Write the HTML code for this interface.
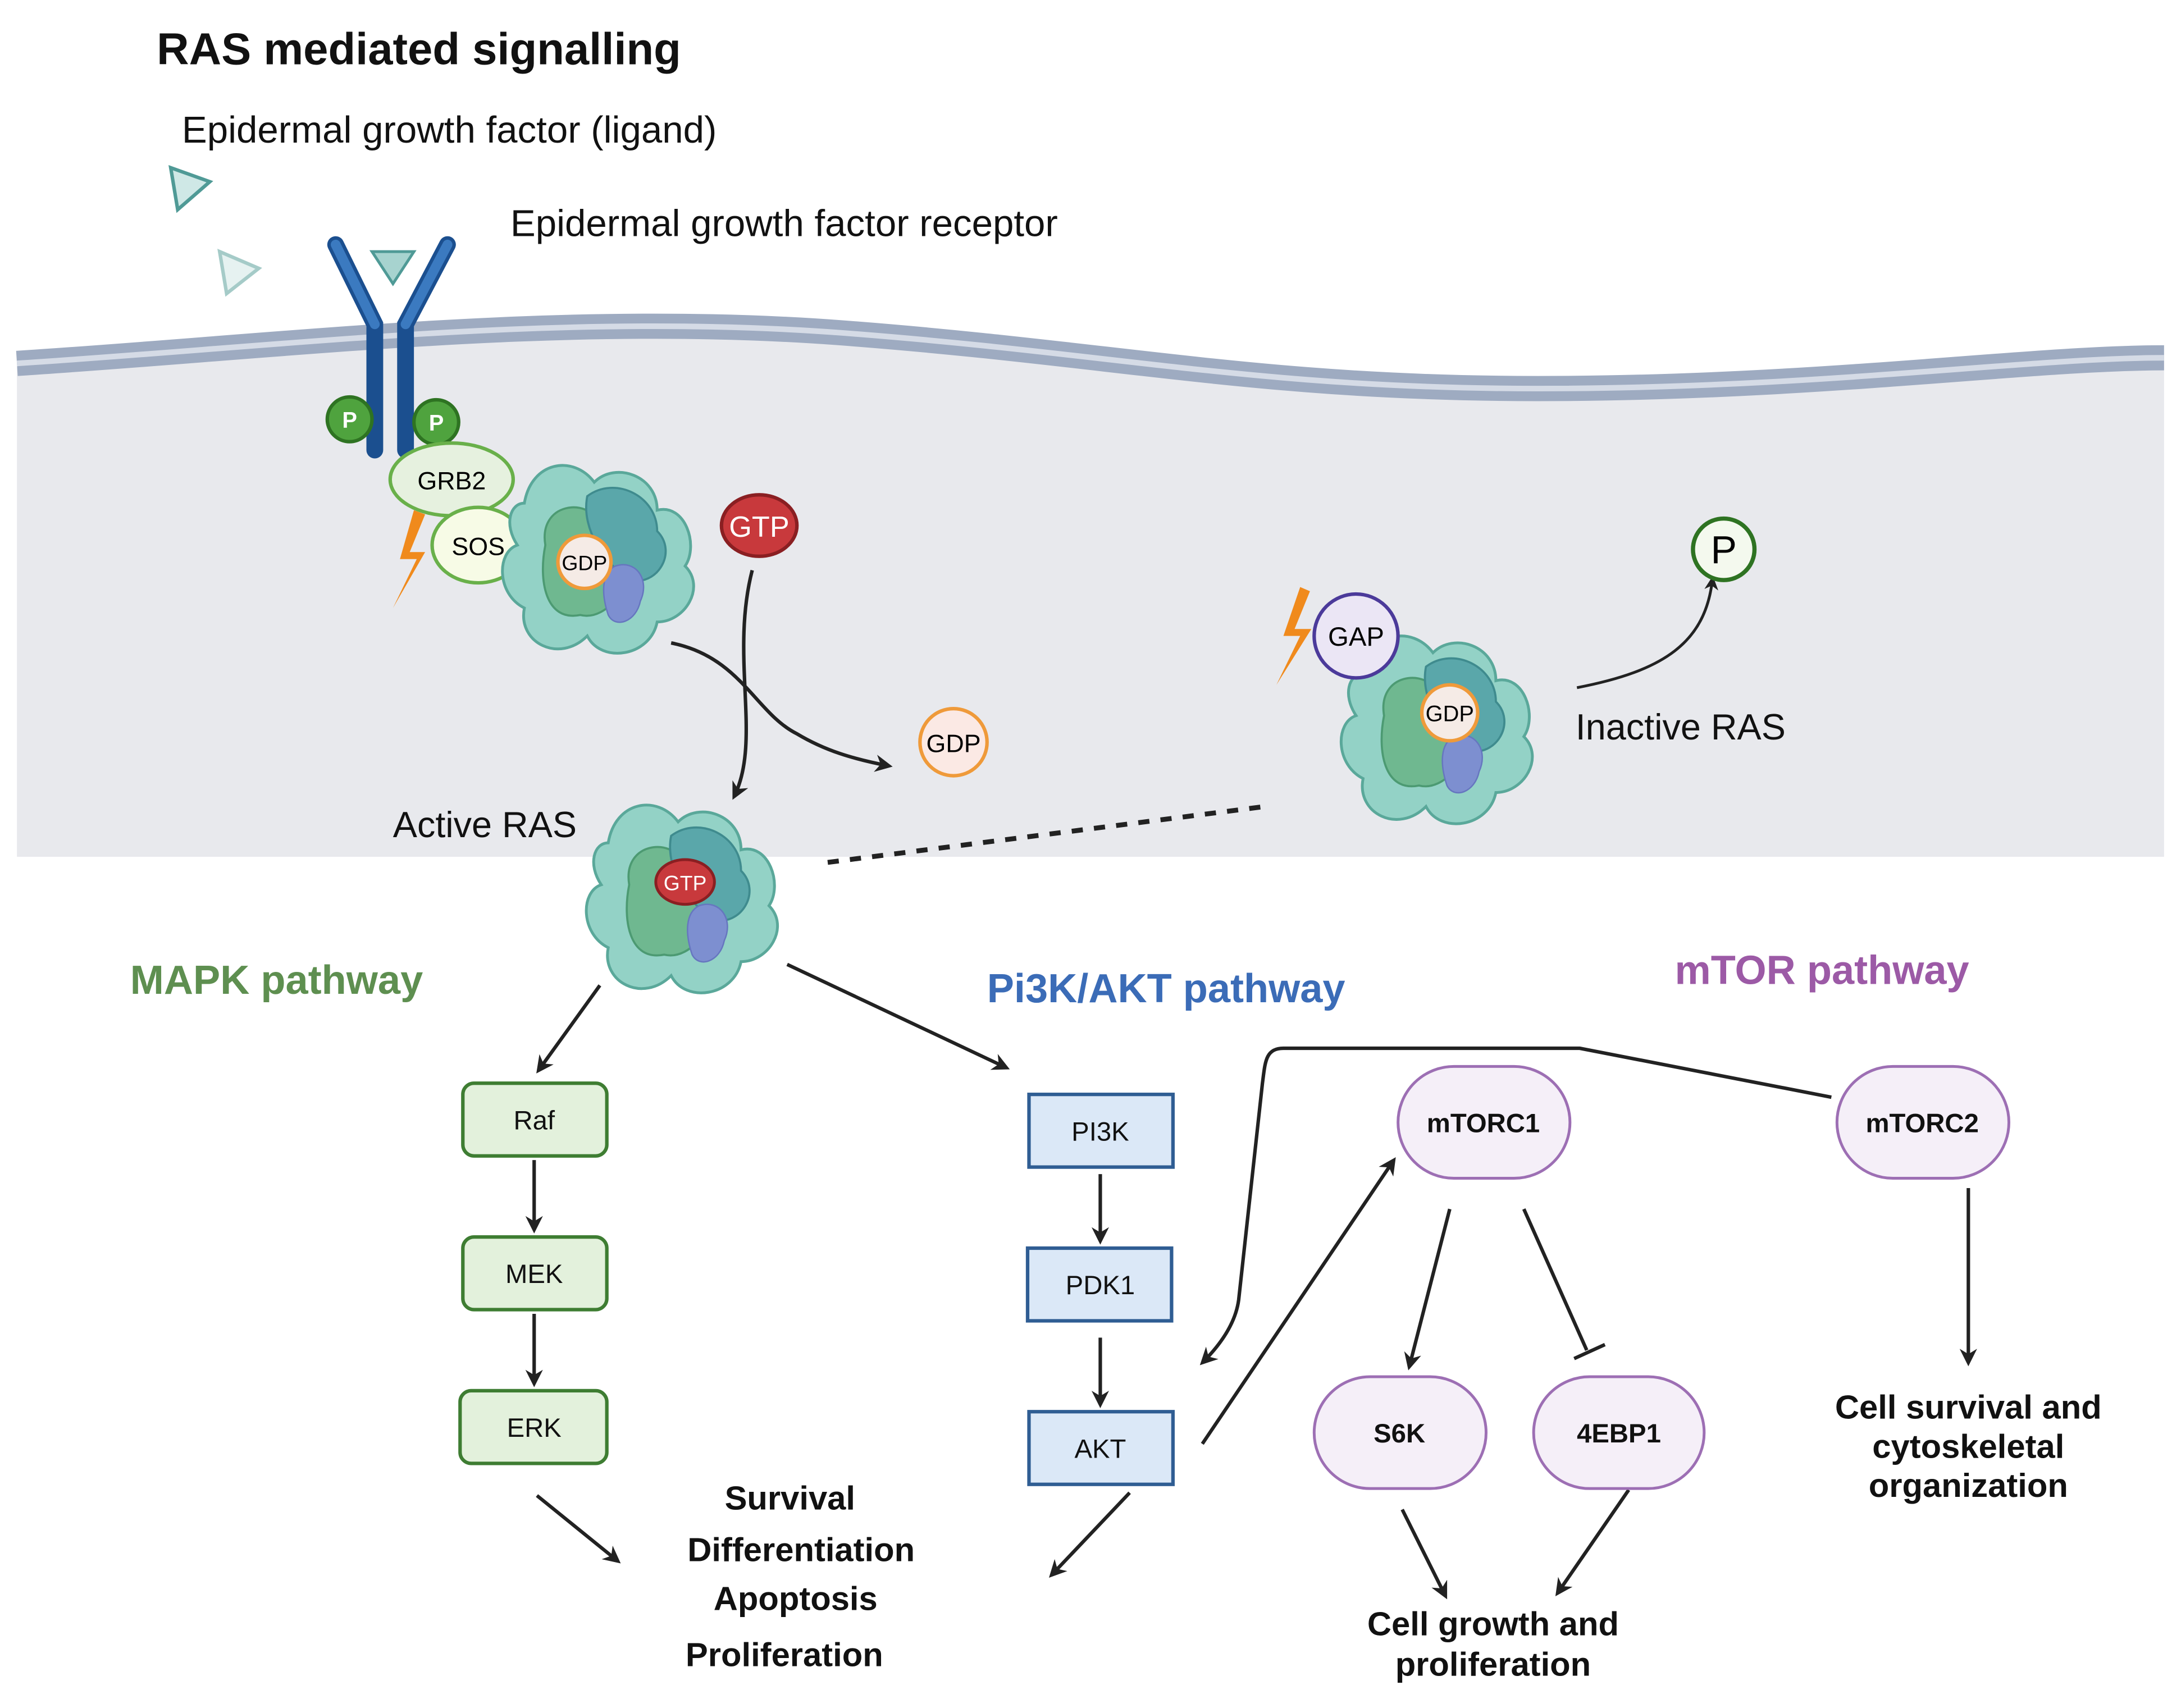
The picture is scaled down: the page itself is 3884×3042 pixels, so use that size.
<!DOCTYPE html>
<html><head><meta charset="utf-8"><style>html,body{margin:0;padding:0;background:#fff}svg{display:block}text{font-family:"Liberation Sans",sans-serif}</style></head>
<body>
<svg width="3884" height="3042" viewBox="0 0 1560 1222" xmlns="http://www.w3.org/2000/svg">
<defs>
<marker id="ah" viewBox="0 0 10 10" refX="8" refY="5" markerWidth="5" markerHeight="5" orient="auto"><path d="M0,0 L10,5 L0,10 L3,5 z" fill="#222"/></marker>
<g id="ras">
<path d="M-55,-40 C-50,-70 -20,-75 -5,-55 C10,-70 40,-60 40,-35 C60,-40 70,-10 60,5 C75,20 60,45 40,45 C35,70 0,75 -10,55 C-30,75 -60,60 -55,35 C-75,25 -75,-5 -60,-10 C-70,-25 -65,-40 -55,-40 z" fill="#93d2c6" stroke="#5aa89a" stroke-width="2"/>
<path d="M-40,-10 C-45,-40 -10,-45 0,-25 C10,-35 25,-20 15,0 C25,15 5,45 -15,40 C-40,45 -45,15 -40,-10 z" fill="#6fb890" stroke="#4c9a72" stroke-width="1.5"/>
<path d="M-10,-45 C10,-60 40,-45 40,-20 C55,-5 40,20 20,15 C5,5 -15,-20 -10,-45 z" fill="#5aa7aa" stroke="#3f8b8e" stroke-width="1.5"/>
<path d="M10,5 C25,0 35,15 28,30 C25,45 10,50 5,40 C0,25 0,10 10,5 z" fill="#7d8fd0" stroke="#6676bf" stroke-width="1"/>
</g>
</defs>

<text x="112" y="46" font-size="32" font-weight="bold" fill="#111">RAS mediated signalling</text>
<text x="130" y="102" font-size="27" fill="#111">Epidermal growth factor (ligand)</text>
<text x="365" y="169" font-size="27" fill="#111">Epidermal growth factor receptor</text>

<path d="M122,120 L150,130 L127,150 z" fill="#cfe8e6" stroke="#4f9a96" stroke-width="2.5"/>
<path d="M157,180 L185,192 L162,210 z" fill="#e6f2f1" stroke="#a5cbc8" stroke-width="2.5"/>

<path d="M12,262 C200,250 400,225 600,240 C800,255 900,280 1100,280 C1300,280 1450,258 1548,258 L1548,613 L12,613 z" fill="#e8e9ed"/>
<path d="M12,260 C200,248 400,223 600,238 C800,253 900,278 1100,278 C1300,278 1450,256 1548,256" fill="none" stroke="#9eabc1" stroke-width="18"/>
<path d="M12,260 C200,248 400,223 600,238 C800,253 900,278 1100,278 C1300,278 1450,256 1548,256" fill="none" stroke="#d5dbe6" stroke-width="4"/>

<path d="M240,175 L268,232 L268,322" fill="none" stroke="#1b4f8f" stroke-width="12" stroke-linecap="round"/>
<path d="M320,175 L290,232 L290,322" fill="none" stroke="#1b4f8f" stroke-width="12" stroke-linecap="round"/>
<path d="M240,175 L268,232" fill="none" stroke="#3b7ac0" stroke-width="7" stroke-linecap="round"/>
<path d="M320,175 L290,232" fill="none" stroke="#3b7ac0" stroke-width="7" stroke-linecap="round"/>
<path d="M266,180 L296,180 L281,203 z" fill="#a7d3cf" stroke="#4f9a96" stroke-width="2"/>
<circle cx="250" cy="300" r="16" fill="#4fa33e" stroke="#2e7322" stroke-width="2.5"/>
<text x="250" y="306" font-size="16" font-weight="bold" fill="#fff" text-anchor="middle">P</text>
<circle cx="312" cy="302" r="16" fill="#4fa33e" stroke="#2e7322" stroke-width="2.5"/>
<text x="312" y="308" font-size="16" font-weight="bold" fill="#fff" text-anchor="middle">P</text>

<ellipse cx="323" cy="343" rx="44" ry="26" fill="#e6f1df" stroke="#69b04a" stroke-width="2.5"/>
<text x="323" y="350" font-size="18" text-anchor="middle">GRB2</text>
<ellipse cx="342" cy="390" rx="33" ry="27" fill="#f7fbe6" stroke="#69b04a" stroke-width="2.5"/>
<text x="342" y="397" font-size="18" text-anchor="middle">SOS</text>
<path d="M296,365 L286,400 L298,400 L281,435 L304,395 L293,395 L304,368 z" fill="#f08a1c"/>

<use href="#ras" x="430" y="400"/>
<circle cx="418" cy="402" r="19" fill="#f5ebe6" stroke="#ef9a3a" stroke-width="2.5"/>
<text x="418" y="408" font-size="15" text-anchor="middle">GDP</text>

<ellipse cx="543" cy="376" rx="27" ry="22" fill="#c8393c" stroke="#8a1f22" stroke-width="2.5"/>
<text x="543" y="384" font-size="21" fill="#fff" text-anchor="middle">GTP</text>

<path d="M538,408 C522,470 545,530 525,570" fill="none" stroke="#222" stroke-width="2.5" marker-end="url(#ah)"/>
<path d="M480,460 C530,470 540,510 570,525 C590,537 610,543 636,548" fill="none" stroke="#222" stroke-width="2.5" marker-end="url(#ah)"/>
<circle cx="682" cy="531" r="24" fill="#fbe9e4" stroke="#ef9a3a" stroke-width="2.5"/>
<text x="682" y="538" font-size="18" text-anchor="middle">GDP</text>

<text x="281" y="599" font-size="26" fill="#111">Active RAS</text>
<use href="#ras" x="490" y="643"/>
<ellipse cx="490" cy="631" rx="21" ry="16" fill="#c8393c" stroke="#8a1f22" stroke-width="2"/>
<text x="490" y="637" font-size="15" fill="#fff" text-anchor="middle">GTP</text>
<line x1="592" y1="617" x2="905" y2="577" stroke="#222" stroke-width="3.5" stroke-dasharray="8,8"/>

<use href="#ras" x="1030" y="522"/>
<circle cx="970" cy="455" r="30" fill="#ebe6f5" stroke="#4b3a9a" stroke-width="2.5"/>
<text x="970" y="462" font-size="19" text-anchor="middle">GAP</text>
<path d="M930,420 L918,455 L930,455 L913,490 L938,450 L926,450 L937,423 z" fill="#f08a1c"/>
<circle cx="1037" cy="510" r="20" fill="#f5ebe6" stroke="#ef9a3a" stroke-width="2.5"/>
<text x="1037" y="516" font-size="16" text-anchor="middle">GDP</text>
<text x="1127" y="529" font-size="26" fill="#111">Inactive RAS</text>
<path d="M1128,492 C1190,480 1220,460 1225,414" fill="none" stroke="#222" stroke-width="2" marker-end="url(#ah)"/>
<circle cx="1233" cy="393" r="22" fill="#f4f9ee" stroke="#2e7322" stroke-width="3"/>
<text x="1233" y="403" font-size="28" text-anchor="middle">P</text>

<text x="93" y="711" font-size="29" font-weight="bold" fill="#5e8f50">MAPK pathway</text>
<text x="706" y="717" font-size="29" font-weight="bold" fill="#3b6cb7">Pi3K/AKT pathway</text>
<text x="1198" y="704" font-size="29" font-weight="bold" fill="#9c5aa6">mTOR pathway</text>

<g stroke="#222" stroke-width="2.5" fill="none" marker-end="url(#ah)">
<line x1="429" y1="705" x2="385" y2="766"/>
<line x1="563" y1="690" x2="720" y2="764"/>
<line x1="382" y1="830" x2="382" y2="880"/>
<line x1="382" y1="940" x2="382" y2="990"/>
<line x1="384" y1="1070" x2="442" y2="1117"/>
<line x1="787" y1="840" x2="787" y2="888"/>
<line x1="787" y1="957" x2="787" y2="1005"/>
<line x1="808" y1="1068" x2="752" y2="1127"/>
<line x1="860" y1="1033" x2="997" y2="830"/>
<line x1="1037" y1="865" x2="1008" y2="978"/>
<line x1="1408" y1="850" x2="1408" y2="975"/>
<line x1="1003" y1="1080" x2="1034" y2="1142"/>
<line x1="1165" y1="1066" x2="1114" y2="1140"/>
<path d="M1310,785 L1130,750 L918,750 C905,750 905,760 903,775 L886,930 C884,945 875,960 860,975"/>
</g>
<line x1="1090" y1="865" x2="1135" y2="966" stroke="#222" stroke-width="2.5"/>
<line x1="1126" y1="972" x2="1148" y2="962" stroke="#222" stroke-width="2.5"/>

<g font-size="19" text-anchor="middle" fill="#111">
<rect x="331" y="775" width="103" height="52" rx="8" fill="#e3f1dc" stroke="#3e7d32" stroke-width="2.5"/><text x="382" y="808">Raf</text>
<rect x="331" y="885" width="103" height="52" rx="8" fill="#e3f1dc" stroke="#3e7d32" stroke-width="2.5"/><text x="382" y="918">MEK</text>
<rect x="329" y="995" width="105" height="52" rx="8" fill="#e3f1dc" stroke="#3e7d32" stroke-width="2.5"/><text x="382" y="1028">ERK</text>
<rect x="736" y="783" width="103" height="52" fill="#dbe8f7" stroke="#2f5d93" stroke-width="2.5"/><text x="787" y="816">PI3K</text>
<rect x="735" y="893" width="103" height="52" fill="#dbe8f7" stroke="#2f5d93" stroke-width="2.5"/><text x="787" y="926">PDK1</text>
<rect x="736" y="1010" width="103" height="52" fill="#dbe8f7" stroke="#2f5d93" stroke-width="2.5"/><text x="787" y="1043">AKT</text>
</g>
<g font-size="19" font-weight="bold" text-anchor="middle" fill="#111">
<rect x="1000" y="763" width="123" height="80" rx="40" fill="#f5eff8" stroke="#9d6fb4" stroke-width="2"/><text x="1061" y="810">mTORC1</text>
<rect x="1314" y="763" width="123" height="80" rx="40" fill="#f5eff8" stroke="#9d6fb4" stroke-width="2"/><text x="1375" y="810">mTORC2</text>
<rect x="940" y="985" width="123" height="80" rx="40" fill="#f5eff8" stroke="#9d6fb4" stroke-width="2"/><text x="1001" y="1032">S6K</text>
<rect x="1097" y="985" width="122" height="80" rx="40" fill="#f5eff8" stroke="#9d6fb4" stroke-width="2"/><text x="1158" y="1032">4EBP1</text>
</g>

<g font-size="24" font-weight="bold" text-anchor="middle" fill="#111">
<text x="565" y="1080">Survival</text>
<text x="573" y="1117">Differentiation</text>
<text x="569" y="1152">Apoptosis</text>
<text x="561" y="1192">Proliferation</text>
<text x="1068" y="1170">Cell growth and</text>
<text x="1068" y="1199">proliferation</text>
<text x="1408" y="1015">Cell survival and</text>
<text x="1408" y="1043">cytoskeletal</text>
<text x="1408" y="1071">organization</text>
</g>
</svg>
</body></html>
